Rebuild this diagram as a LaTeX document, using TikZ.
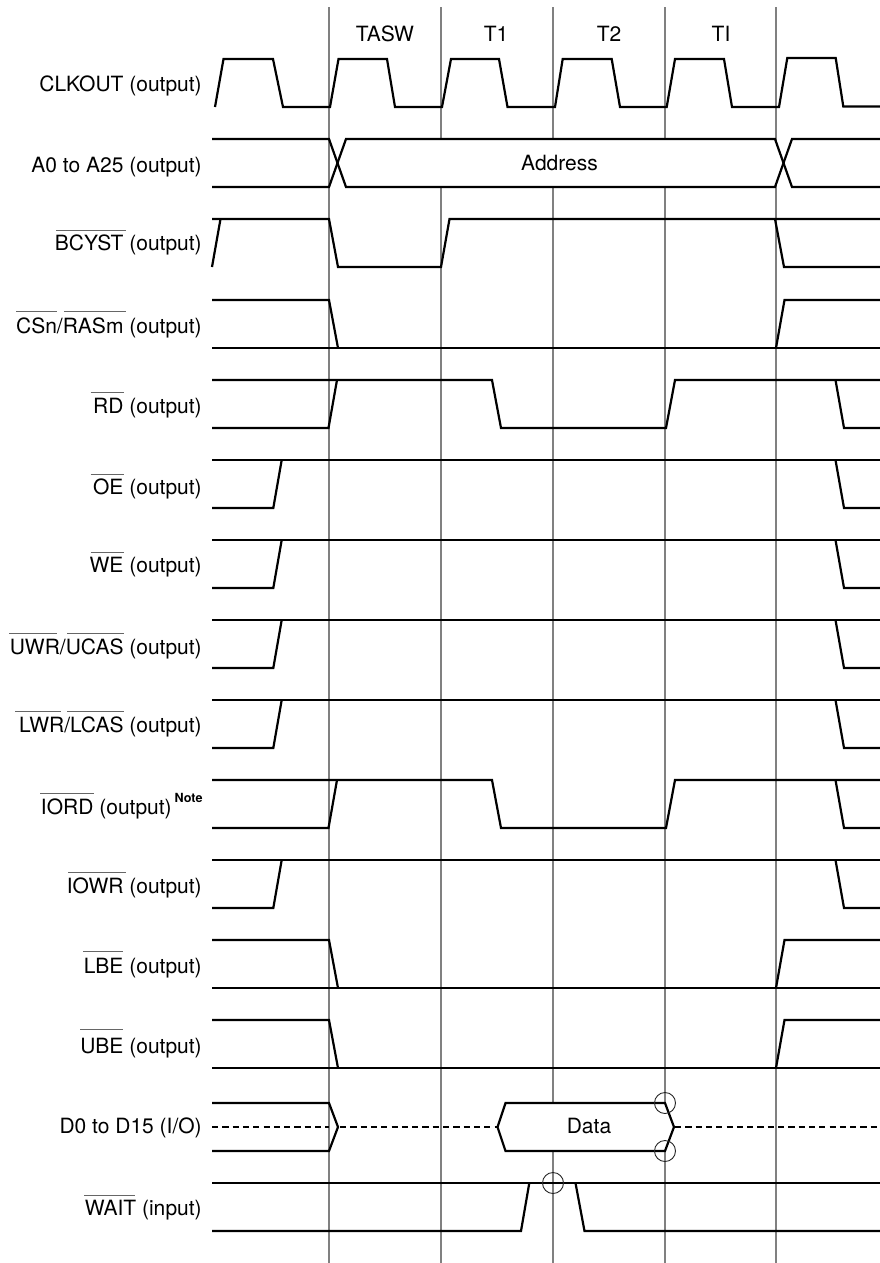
\documentclass[tikz,border=0pt]{standalone}
\usepackage{fontspec}
\setmainfont{TeX Gyre Heros}
\tikzset{
  wave/.style={line width=2.2bp,black,line join=miter},
  dashwave/.style={line width=2.2bp,black,dash pattern=on 6.2bp off 4.1bp},
  grid/.style={line width=1.1bp,black!50},
  ring/.style={line width=0.9bp,black!85},
  ovl/.style={line width=0.8bp,black!60},
  lbl/.style={anchor=base east,inner sep=0pt,outer sep=0pt,font=\fontsize{21bp}{25bp}\selectfont},
  txt/.style={anchor=base,inner sep=0pt,outer sep=0pt,font=\fontsize{21bp}{25bp}\selectfont},
  notetxt/.style={anchor=base east,inner sep=0pt,outer sep=0pt,font=\fontsize{12.6bp}{15bp}\selectfont\bfseries}
}
\begin{document}
\begin{tikzpicture}[x=1bp,y=-1bp]
\useasboundingbox (0,0) rectangle (880,1263);
\fill[white] (0,0) rectangle (880,1263);
% cycle boundaries
\foreach \vx in {329,441,553,665,776}{
  \draw[grid] (\vx,7) -- (\vx,1263);
}
% headers
\node[txt] (tasw) at (385,41.7) {TASW};
\node[txt] (tone) at (496,41.7) {T1};
\node[txt] (ttwo) at (609,41.7) {T2};
\node[txt] (tidle) at (721,41.7) {TI};
% CLKOUT
\draw[wave] (215,107) -- (223.5,59) -- (273,59) -- (283,107) -- (330,107) -- (338.5,59) -- (387,59) -- (395,107)
  -- (442,107) -- (451,59) -- (499,59) -- (507.5,107) -- (555,107) -- (562.7,59) -- (611.7,59) -- (620,107)
  -- (666.7,107) -- (675,59) -- (724,59) -- (732,107) -- (779,107) -- (787.3,58) -- (835.7,58) -- (843.3,106.5) -- (880,106.5);
% Address bus
\fill[white] (337.5,163) -- (346,139) -- (775,139) -- (783.5,163) -- (775,187) -- (346,187) -- cycle;
\draw[wave] (212,139) -- (329,139) -- (346,187) -- (775,187) -- (792,139) -- (880,139);
\draw[wave] (212,187) -- (329,187) -- (346,139) -- (775,139) -- (792,187) -- (880,187);
\node[txt] (addr) at (559.5,170.7) {Address};
% BCYST
\draw[wave] (212,267) -- (220.5,219);
\draw[wave] (212,219) -- (329,219) -- (338,267) -- (441,267) -- (449.5,219) -- (880,219);
\draw[wave] (775,219) -- (784,267) -- (880,267);
% CSn, LBE, UBE
\foreach \t in {300,940,1020}{
  \draw[wave] (212,\t) -- (329,\t) -- (338,{\t+48});
  \draw[wave] (212,{\t+48}) -- (880,{\t+48});
  \draw[wave] (776,{\t+48}) -- (784.5,\t) -- (880,\t);
}
% RD, IORD
\foreach \t in {380,780}{
  \draw[wave] (212,\t) -- (492,\t) -- (501,{\t+48}) -- (666,{\t+48}) -- (675,\t) -- (880,\t);
  \draw[wave] (212,{\t+48}) -- (328.5,{\t+48}) -- (337,\t);
  \draw[wave] (835.5,\t) -- (844,{\t+48}) -- (880,{\t+48});
}
% OE, WE, UWR, LWR, IOWR
\foreach \t in {460,540,620,700,860}{
  \draw[wave] (212,\t) -- (880,\t);
  \draw[wave] (212,{\t+48}) -- (273.3,{\t+48}) -- (281.7,\t);
  \draw[wave] (835.5,\t) -- (844,{\t+48}) -- (880,{\t+48});
}
% D0 to D15
\draw[dashwave] (212,1127) -- (329,1127);
\draw[dashwave] (340,1127) -- (497,1127);
\draw[dashwave] (675,1127) -- (880,1127);
\draw[wave] (212,1103) -- (329,1103) -- (338,1127) -- (329,1151) -- (212,1151);
\filldraw[wave,fill=white] (497.5,1127) -- (505.5,1103) -- (665,1103) -- (674,1127) -- (665,1151) -- (505.5,1151) -- cycle;
\node[txt] (data) at (589,1133) {Data};
% WAIT
\draw[wave] (212,1183) -- (880,1183);
\draw[wave] (212,1231) -- (521,1231) -- (529.3,1183);
\draw[wave] (575.5,1183) -- (584.5,1231) -- (880,1231);
% rings
\draw[ring] (665,1103) circle (10.5);
\draw[ring] (665,1151) circle (10.5);
\draw[ring] (553,1183) circle (10.5);
% labels
\node[lbl] (lclk) at (201.7,91.5) {CLKOUT (output)};
\node[lbl] (laddr) at (201.7,172) {A0 to A25 (output)};
\node[lbl] (lbcy) at (201.7,250.7) {BCYST (output)};
\node[lbl] (lcs) at (201.7,333) {CSn/RASm (output)};
\node[lbl] (lrd) at (201.7,413) {RD (output)};
\node[lbl] (loe) at (201.7,494) {OE (output)};
\node[lbl] (lwe) at (201.7,572.7) {WE (output)};
\node[lbl] (luwr) at (201.7,654) {UWR/UCAS (output)};
\node[lbl] (llwr) at (201.7,732) {LWR/LCAS (output)};
\node[lbl] (liord) at (171.7,814) {IORD (output)};
\node[notetxt] (lnote) at (202.5,802.7) {Note};
\node[lbl] (liowr) at (201.7,893) {IOWR (output)};
\node[lbl] (llbe) at (201.7,973) {LBE (output)};
\node[lbl] (lube) at (201.7,1053) {UBE (output)};
\node[lbl] (ldata) at (201.7,1133) {D0 to D15 (I/O)};
\node[lbl] (lwait) at (201.7,1215.7) {WAIT (input)};
% active-low bars
\draw[ovl] (56,230.7) -- (126,230.7);
\draw[ovl] (16,311.3) -- (57.3,311.3);
\draw[ovl] (64,311.3) -- (125.7,311.3);
\draw[ovl] (90.7,392.7) -- (124,392.7);
\draw[ovl] (90.7,474) -- (124,474);
\draw[ovl] (90.7,552.7) -- (124,552.7);
\draw[ovl] (9.3,633.3) -- (57.3,633.3);
\draw[ovl] (67,633.3) -- (124.3,633.3);
\draw[ovl] (15,711.3) -- (61,711.3);
\draw[ovl] (67,711.3) -- (124.3,711.3);
\draw[ovl] (40,793) -- (94,793);
\draw[ovl] (68,872.7) -- (126,872.7);
\draw[ovl] (83,951) -- (123,951);
\draw[ovl] (80,1029.3) -- (123,1029.3);
\draw[ovl] (84,1195.7) -- (135,1195.7);
\end{tikzpicture}
\end{document}
